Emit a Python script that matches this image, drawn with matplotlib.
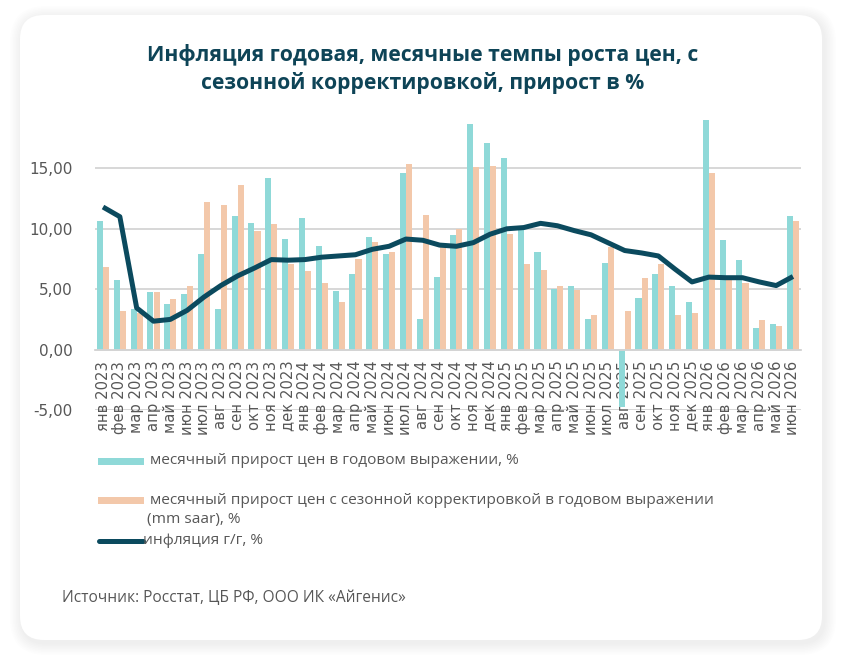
import matplotlib
matplotlib.use("Agg")
import matplotlib.pyplot as plt
from matplotlib.patches import FancyBboxPatch, Rectangle
from matplotlib.lines import Line2D
import numpy as np

months = ["янв", "фев", "мар", "апр", "май", "июн", "июл", "авг", "сен", "окт", "ноя", "дек"]
labels = [f"{m} {y}" for y in (2023, 2024, 2025) for m in months] + [f"{m} 2026" for m in months[:6]]

mm_annual = [10.63, 5.75, 3.4, 4.75, 3.8, 4.6, 7.9, 3.4, 11.05, 10.45, 14.2, 9.15,
             10.9, 8.55, 4.85, 6.25, 9.3, 7.95, 14.6, 2.5, 6.0, 9.5, 18.7, 17.1,
             15.85, 9.95, 8.1, 5.0, 5.3, 2.5, 7.15, -4.75, 4.25, 6.25, 5.25, 3.9,
             19.0, 9.1, 7.45, 1.75, 2.1, 11.05]
mm_saar = [6.85, 3.2, 3.0, 4.75, 4.2, 5.25, 12.2, 11.95, 13.6, 9.85, 10.4, 7.1,
           6.5, 5.5, 3.9, 7.5, 8.9, 8.05, 15.35, 11.1, 8.5, 10.0, 15.1, 15.2,
           9.6, 7.05, 6.55, 5.3, 4.9, 2.85, 8.5, 3.2, 5.9, 7.1, 2.85, 3.0,
           14.6, 5.75, 5.5, 2.45, 1.95, 10.65]
yoy = [11.8, 11.0, 3.45, 2.35, 2.5, 3.25, 4.35, 5.3, 6.1, 6.75, 7.45, 7.4,
       7.45, 7.65, 7.75, 7.85, 8.3, 8.55, 9.15, 9.05, 8.65, 8.55, 8.85, 9.55,
       10.0, 10.1, 10.45, 10.25, 9.85, 9.5, 8.85, 8.2, 8.0, 7.75, 6.65, 5.6,
       6.0, 5.95, 5.95, 5.6, 5.3, 6.05]
yticks = [-5, 0, 5, 10, 15]
ytick_labels = ["-5,00", "0,00", "5,00", "10,00", "15,00"]

C_CYAN = "#8fd9d8"
C_PEACH = "#f3c8aa"
C_LINE = "#0b4a5e"
C_TITLE = "#0e4457"
C_TEXT = "#575757"
FONT = ["Open Sans", "DejaVu Sans"]
TICKFONT = ["DejaVu Sans"]
plt.rcParams["font.family"] = FONT

W, H = 843, 667
fig = plt.figure(figsize=(W / 100, H / 100), dpi=100)
fig.patch.set_facecolor("white")

# card with soft shadow
for i in range(8):
    d = (8 - i) * 1.5
    sh = FancyBboxPatch((20 - d + 2, 667 - 640 - d - 3), 802 + 2 * d, 625 + 2 * d,
                        boxstyle="round,pad=0,rounding_size=%g" % (24 + d), transform=None,
                        facecolor="black", edgecolor="none", alpha=0.006, zorder=0)
    fig.patches.append(sh)
card = FancyBboxPatch((20, 667 - 640), 802, 625, boxstyle="round,pad=0,rounding_size=24",
                      transform=None, facecolor="white", edgecolor="none", zorder=1)
fig.patches.append(card)

fig.text(423 / W, 1 - 55 / H, "Инфляция годовая, месячные темпы роста цен, с",
         ha="center", va="center", fontsize=15.2, fontweight="bold", color=C_TITLE)
fig.text(423 / W, 1 - 83 / H, "сезонной корректировкой, прирост в %",
         ha="center", va="center", fontsize=15.2, fontweight="bold", color=C_TITLE)

left, right = 94.6 / W, 801.4 / W
bottom, top = 1 - 410 / H, 1 - 114 / H
ax = fig.add_axes([left, bottom, right - left, top - bottom])
ax.set_facecolor("none")
ax.set_zorder(3)

x = np.arange(len(labels))
bw = 0.36
ax.bar(x - bw / 2, mm_annual, width=bw, color=C_CYAN, zorder=2)
ax.bar(x + bw / 2, mm_saar, width=bw, color=C_PEACH, zorder=2)
ax.plot(x, yoy, color=C_LINE, lw=3.6, zorder=4, solid_capstyle="butt", solid_joinstyle="round")

ax.set_xlim(-0.5, len(labels) - 0.5)
ax.set_ylim(-5, 19.5)
ax.set_yticks(yticks)
ax.set_yticklabels(ytick_labels, family=TICKFONT, fontsize=11, color=C_TEXT)
for yv in yticks:
    ax.axhline(yv, color="#d4d4d4", lw=1.3, zorder=1)
for s in ["top", "right", "left"]:
    ax.spines[s].set_visible(False)
ax.spines["bottom"].set_position(("data", 0))
ax.spines["bottom"].set_color("#d4d4d4")
ax.spines["bottom"].set_linewidth(1.3)
ax.set_xticks(x)
ax.set_xticklabels(labels, rotation=90, fontsize=10.6, color=C_TEXT, family=TICKFONT)
ax.tick_params(axis="x", length=0, pad=8)
ax.tick_params(axis="y", length=0, pad=16)

# legend
def px(xp, yp):
    return xp / W, 1 - yp / H

LFS = 11.1
fig.patches.append(Rectangle(px(98, 465), 46 / W, 7 / H, transform=fig.transFigure,
                             facecolor=C_CYAN, edgecolor="none", zorder=5))
fig.text(*px(150, 461), "месячный прирост цен в годовом выражении, %", ha="left", va="center",
         fontsize=LFS, color=C_TEXT, zorder=5)
fig.patches.append(Rectangle(px(98, 504), 46 / W, 7 / H, transform=fig.transFigure,
                             facecolor=C_PEACH, edgecolor="none", zorder=5))
fig.text(*px(150, 500), "месячный прирост цен с сезонной корректировкой в годовом выражении",
         ha="left", va="center", fontsize=LFS, color=C_TEXT, zorder=5)
fig.text(*px(147, 519), "(mm saar), %", ha="left", va="center", fontsize=LFS, color=C_TEXT, zorder=5)
fig.lines.append(Line2D([99 / W, 143 / W], [1 - 541 / H, 1 - 541 / H], transform=fig.transFigure,
                        color=C_LINE, lw=3.6, solid_capstyle="round", zorder=5))
fig.text(*px(143, 541), "инфляция г/г, %", ha="left", va="center", fontsize=LFS, color=C_TEXT, zorder=5)

fig.text(*px(62, 598), "Источник: Росстат, ЦБ РФ, ООО ИК «Айгенис»", ha="left", va="center",
         fontsize=11.2, color=C_TEXT, zorder=5)

fig.savefig("out.png", dpi=100, facecolor=fig.get_facecolor())
